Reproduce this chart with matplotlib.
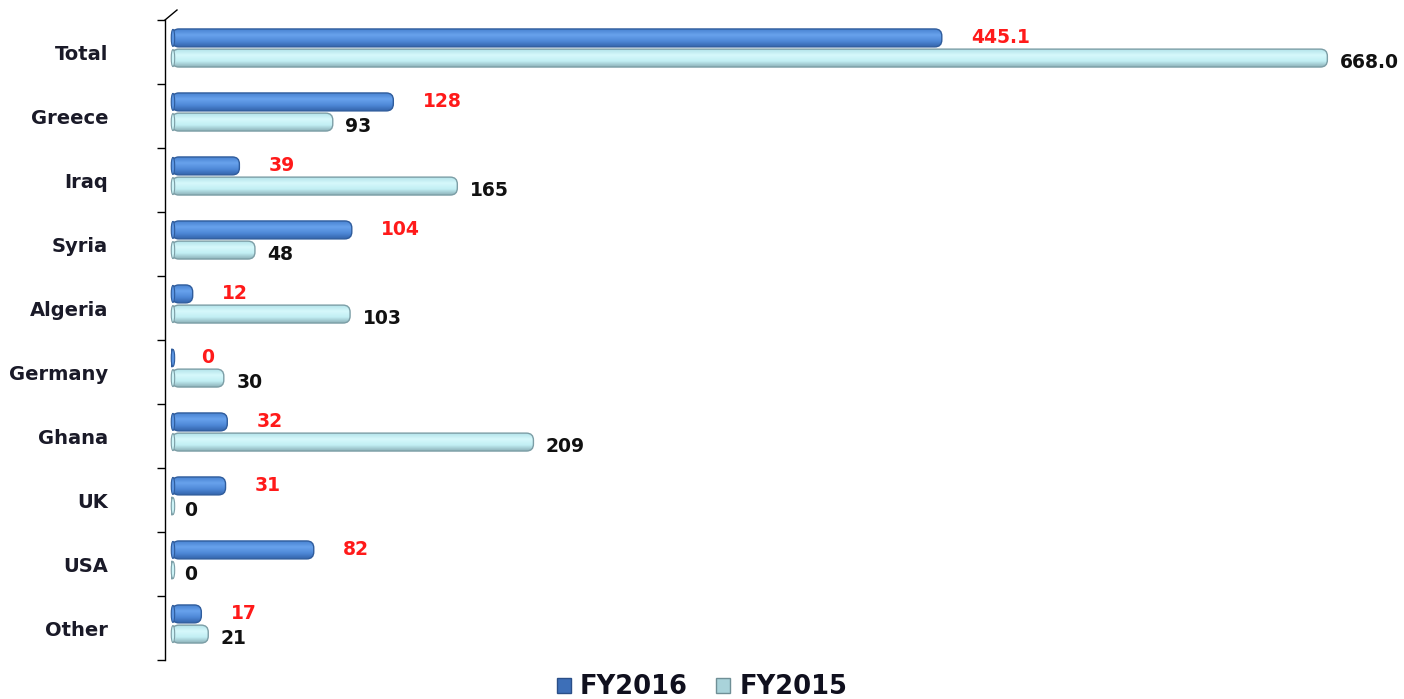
import numpy as np
import matplotlib
matplotlib.use("Agg")
import matplotlib.pyplot as plt
from matplotlib.patches import FancyBboxPatch, Patch, Ellipse
from matplotlib.colors import LinearSegmentedColormap

# Data
countries = ["Total", "Greece", "Iraq", "Syria", "Algeria", "Germany", "Ghana", "UK", "USA", "Other"]
fy2016 = [445.1, 128, 39, 104, 12, 0, 32, 31, 82, 17]
fy2015 = [668.0, 93, 165, 48, 103, 30, 209, 0, 0, 21]
fy2016_labels = ["445.1", "128", "39", "104", "12", "0", "32", "31", "82", "17"]
fy2015_labels = ["668.0", "93", "165", "48", "103", "30", "209", "0", "0", "21"]

plt.rcParams['font.family'] = ['DejaVu Sans']

fig = plt.figure(figsize=(14.04, 6.99), dpi=100)
ax = fig.add_axes([165 / 1404, 39 / 699, 1235 / 1404, 640 / 699])

y = np.arange(len(countries))
h = 0.28

# cylinder shading (top -> bottom)
cmap16 = LinearSegmentedColormap.from_list("c16", ["#4a84d2", "#68a2ec", "#4f89d8", "#3364ab"])
cmap15 = LinearSegmentedColormap.from_list("c15", ["#b2e3ea", "#d6f8fb", "#c2eff4", "#8db2b9"])

bars16 = ax.barh(y - 0.22, fy2016, height=h, color="none", edgecolor="none")
bars15 = ax.barh(y + 0.095, fy2015, height=h, color="none", edgecolor="none")

xpx = 1.73  # pixels per data unit
ypx = 64.0  # pixels per category


def shade(bars, cmap, edge):
    grad = np.linspace(0, 1, 64).reshape(-1, 1)
    for b in bars:
        x0, y0, w, hh = b.get_x(), b.get_y(), b.get_width(), b.get_height()
        r = min(7 / xpx, w / 2) if w > 0 else 0
        box = FancyBboxPatch((x0, y0), w, hh,
                             boxstyle="round,pad=0,rounding_size=%f" % max(r, 1e-6),
                             mutation_aspect=(xpx / ypx),
                             facecolor="none", edgecolor=edge, lw=1.0, zorder=3)
        ax.add_patch(box)
        if w > 0:
            im = ax.imshow(grad, extent=[x0, x0 + w, y0, y0 + hh], origin="lower",
                           aspect="auto", cmap=cmap, zorder=2, interpolation="bilinear")
            im.set_clip_path(box)
        # end cap of the cylinder at the axis
        cap = Ellipse((x0 + 0.6, y0 + hh / 2), 2.0, hh * 0.95,
                      facecolor=cmap(0.5), edgecolor=edge, lw=0.8, zorder=4)
        ax.add_patch(cap)


shade(bars16, cmap16, "#2f5c9c")
shade(bars15, cmap15, "#7c9ea6")

for b, lab in zip(bars16, fy2016_labels):
    ax.annotate(lab, (b.get_width(), b.get_y() + b.get_height() / 2),
                xytext=(21, 0), textcoords="offset points", ha="left", va="center",
                color="#ff1a1a", fontsize=13.5, fontweight="bold")
for b, lab in zip(bars15, fy2015_labels):
    ax.annotate(lab, (b.get_width(), b.get_y() + b.get_height() / 2),
                xytext=(9, -3), textcoords="offset points", ha="left", va="center",
                color="#111111", fontsize=13.5, fontweight="bold")

ax.set_xlim(-4, 710)
ax.set_ylim(len(countries) - 0.5, -0.5)

ax.set_yticks(y)
ax.set_yticklabels(countries, fontsize=14, fontweight="bold", color="#1a1a28")
ax.tick_params(axis="y", which="major", length=0, pad=41)
ax.set_yticks(np.arange(-0.5, len(countries)), minor=True)
ax.tick_params(axis="y", which="minor", length=6, width=1, direction="out")
ax.set_xticks([])

for s in ["top", "right", "bottom"]:
    ax.spines[s].set_visible(False)
ax.spines["left"].set_linestyle((0, (2, 1)))
ax.spines["left"].set_linewidth(1.0)

# small slanted corner at the top of the axis
ax.plot([0, 12 / 1235], [1.0, 1.0 + 10 / 640], transform=ax.transAxes,
        color="black", lw=1, clip_on=False)

handles = [Patch(facecolor="#3d6fb8", edgecolor="#2a4f88"),
           Patch(facecolor="#a9d3da", edgecolor="#6f8f96")]
fig.legend(handles, ["FY2016", "FY2015"], loc="lower center", bbox_to_anchor=(0.5, -0.035),
           ncol=2, frameon=False, handlelength=0.55, handleheight=0.55, handletextpad=0.35,
           columnspacing=1.1, labelcolor="#10101e", prop={"weight": "bold", "size": 18.5})

fig.savefig("out.png", dpi=100)
